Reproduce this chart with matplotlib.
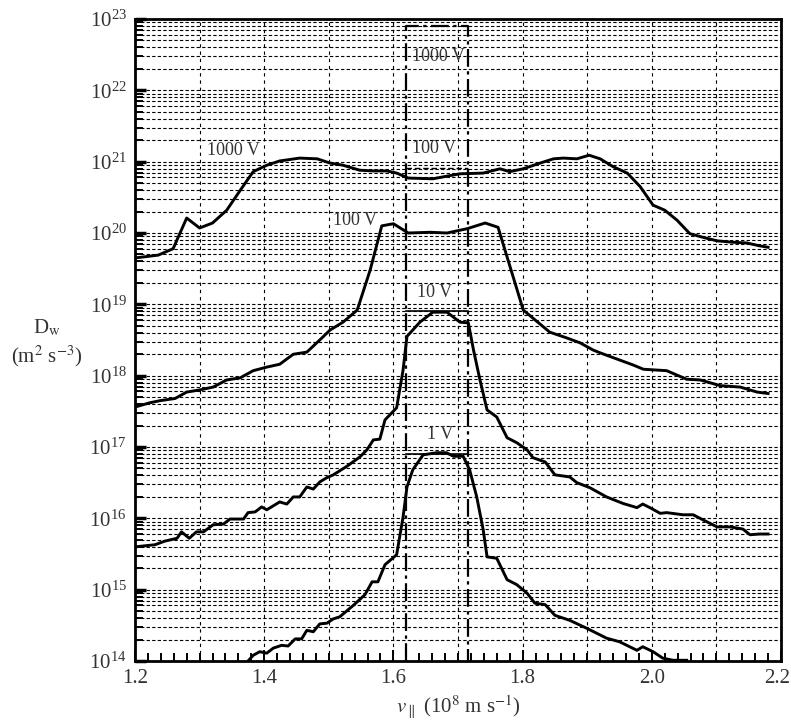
import numpy as np
import matplotlib
matplotlib.use("Agg")
import matplotlib.pyplot as plt
import matplotlib.transforms as mtrans
from matplotlib.ticker import MultipleLocator, LogLocator, NullFormatter

plt.rcParams['font.family'] = ['Liberation Serif', 'DejaVu Serif']
plt.rcParams['mathtext.fontset'] = 'stix'

# curves: x in 1e8 m/s, y as log10(D_w)
x_1000 = [1.20, 1.236, 1.259, 1.28, 1.30, 1.32, 1.342, 1.363, 1.383, 1.404, 1.424, 1.455,
          1.482, 1.502, 1.522, 1.548, 1.569, 1.59, 1.605, 1.623, 1.661, 1.703, 1.739, 1.765,
          1.78, 1.801, 1.827, 1.848, 1.863, 1.884, 1.903, 1.92, 1.94, 1.962, 1.982, 2.002,
          2.02, 2.039, 2.059, 2.079, 2.101, 2.126, 2.147, 2.167, 2.18]
log_1000 = [19.65, 19.69, 19.78, 20.21, 20.07, 20.14, 20.32, 20.60, 20.86, 20.95, 21.01, 21.05,
            21.04, 20.98, 20.95, 20.88, 20.87, 20.87, 20.84, 20.77, 20.76, 20.83, 20.84, 20.90,
            20.86, 20.90, 20.98, 21.04, 21.05, 21.04, 21.09, 21.04, 20.93, 20.84, 20.65, 20.39,
            20.32, 20.18, 19.99, 19.94, 19.89, 19.87, 19.86, 19.82, 19.80]

x_100 = [1.20, 1.223, 1.239, 1.262, 1.28, 1.30, 1.321, 1.342, 1.363, 1.383, 1.404, 1.424,
         1.445, 1.466, 1.486, 1.502, 1.522, 1.544, 1.564, 1.582, 1.60, 1.623, 1.657, 1.683,
         1.714, 1.742, 1.762, 1.801, 1.842, 1.868, 1.889, 1.909, 1.920, 1.971, 1.987, 2.023,
         2.054, 2.075, 2.106, 2.137, 2.163, 2.18]
log_100 = [17.56, 17.62, 17.65, 17.68, 17.77, 17.80, 17.84, 17.94, 17.97, 18.07, 18.12, 18.16,
           18.30, 18.33, 18.50, 18.64, 18.75, 18.92, 19.48, 20.10, 20.13, 20.00, 20.01, 20.00,
           20.06, 20.14, 20.08, 18.92, 18.61, 18.53, 18.46, 18.36, 18.32, 18.15, 18.09, 18.07,
           17.95, 17.94, 17.86, 17.84, 17.77, 17.75]

x_10 = [1.20, 1.231, 1.246, 1.265, 1.272, 1.284, 1.295, 1.306, 1.321, 1.337, 1.347, 1.368,
        1.375, 1.386, 1.396, 1.404, 1.424, 1.435, 1.445, 1.455, 1.466, 1.476, 1.486, 1.497,
        1.507, 1.528, 1.548, 1.559, 1.569, 1.579, 1.587, 1.605, 1.615, 1.621, 1.641, 1.661,
        1.683, 1.703, 1.716, 1.724, 1.734, 1.745, 1.760, 1.776, 1.791, 1.807, 1.816, 1.835,
        1.850, 1.873, 1.884, 1.904, 1.930, 1.955, 1.977, 1.986, 1.997, 2.013, 2.023, 2.048,
        2.064, 2.079, 2.101, 2.121, 2.141, 2.152, 2.167, 2.18]
log_10 = [15.60, 15.63, 15.68, 15.72, 15.81, 15.72, 15.81, 15.81, 15.91, 15.92, 15.99, 15.99,
          16.08, 16.09, 16.16, 16.12, 16.23, 16.20, 16.30, 16.30, 16.44, 16.41, 16.51, 16.57,
          16.61, 16.73, 16.86, 16.96, 17.10, 17.11, 17.38, 17.55, 18.08, 18.55, 18.75, 18.89,
          18.89, 18.75, 18.74, 18.36, 17.94, 17.52, 17.42, 17.13, 17.06, 16.96, 16.85, 16.79,
          16.61, 16.58, 16.50, 16.43, 16.30, 16.21, 16.15, 16.20, 16.15, 16.07, 16.08, 16.05,
          16.05, 15.98, 15.88, 15.88, 15.85, 15.77, 15.78, 15.78]

x_1 = [1.375, 1.383, 1.393, 1.404, 1.414, 1.427, 1.437, 1.448, 1.458, 1.466, 1.476, 1.486,
       1.497, 1.507, 1.517, 1.538, 1.556, 1.567, 1.576, 1.587, 1.605, 1.615, 1.621, 1.630,
       1.646, 1.667, 1.682, 1.693, 1.708, 1.718, 1.729, 1.739, 1.745, 1.760, 1.776, 1.791,
       1.807, 1.819, 1.835, 1.850, 1.873, 1.899, 1.930, 1.950, 1.977, 1.986, 2.002, 2.017,
       2.033, 2.054]
log_1 = [14.00, 14.08, 14.13, 14.11, 14.18, 14.22, 14.21, 14.31, 14.31, 14.43, 14.41, 14.52,
         14.53, 14.59, 14.62, 14.78, 14.93, 15.11, 15.11, 15.35, 15.49, 16.02, 16.44, 16.68,
         16.89, 16.92, 16.92, 16.87, 16.87, 16.68, 16.30, 15.84, 15.46, 15.44, 15.14, 15.07,
         14.95, 14.81, 14.79, 14.64, 14.57, 14.46, 14.32, 14.27, 14.15, 14.20, 14.13, 14.04,
         14.01, 14.01]

# window box and plateau marks
box_left, box_right, box_top = 1.62, 1.715, 22.9
plateau_100, plateau_10, plateau_1 = 20.91, 18.91, 16.90

fig = plt.figure(figsize=(7.91, 7.21), dpi=100)
ax = fig.add_axes([135 / 791, 1 - 661 / 721, 646 / 791, 642 / 721])
ax.set_yscale('log')
ax.set_xlim(1.2, 2.2)
ax.set_ylim(1e14, 1e23)

# grid
ax.xaxis.set_major_locator(MultipleLocator(0.2))
ax.xaxis.set_minor_locator(MultipleLocator(0.02))
for gx in np.arange(1.3, 2.15, 0.1):
    ax.axvline(gx, color='black', lw=0.8, ls=(0, (3, 3.5)), zorder=1)
ax.yaxis.set_major_locator(LogLocator(base=10, numticks=20))
ax.yaxis.set_minor_locator(LogLocator(base=10, subs=np.arange(2, 10), numticks=200))
ax.yaxis.set_minor_formatter(NullFormatter())
ax.grid(True, which='both', axis='y', color='black', lw=0.8, ls=(0, (3, 2)), zorder=1)

for xs, ls in [(x_1000, log_1000), (x_100, log_100), (x_10, log_10), (x_1, log_1)]:
    ax.plot(xs, 10 ** np.array(ls), color='black', lw=2.1, zorder=3, clip_on=True)

# dash-dot window
ax.plot([box_left, box_left, box_right, box_right],
        [1e14, 10 ** box_top, 10 ** box_top, 1e14],
        color='black', lw=1.6, ls=(0, (8, 2, 1.5, 2)), zorder=4)
ax.plot([box_left, box_right], [10 ** plateau_100] * 2, color='black', lw=1.0, ls=(0, (4, 2)), zorder=4)
ax.plot([box_left, box_right], [10 ** plateau_10] * 2, color='black', lw=1.2, zorder=4)
ax.plot([box_left, box_right], [10 ** plateau_1] * 2, color='black', lw=1.2, zorder=4)

lab_kw = dict(ha='center', va='center', fontsize=13, color='#333333', zorder=5)
ax.text(1.352, 10 ** 21.16, '1000 V', **lab_kw)
ax.text(1.541, 10 ** 20.18, '100 V', **lab_kw)
ax.text(1.669, 10 ** 22.47, '1000 V', **lab_kw)
ax.text(1.663, 10 ** 21.19, '100 V', **lab_kw)
ax.text(1.664, 10 ** 19.17, '10 V', **lab_kw)
ax.text(1.672, 10 ** 17.17, '1 V', **lab_kw)

ax.tick_params(axis='both', which='both', direction='in', labelsize=15, width=1.4,
               labelcolor='#333333')
ax.tick_params(axis='both', which='major', length=8, pad=6)
ax.tick_params(axis='both', which='minor', length=6)
ax.tick_params(axis='y', which='major', width=2.5)
ax.set_xticks([1.2, 1.4, 1.6, 1.8, 2.0, 2.2])
ax.set_xticklabels(['1.2', '1.4', '1.6', '1.8', '2.0', '2.2'])
# nudge the last label so it stays inside the figure
last = ax.get_xticklabels()[-1]
last.set_transform(last.get_transform() + mtrans.ScaledTranslation(-4 / 100, 0, fig.dpi_scale_trans))
for s in ax.spines.values():
    s.set_linewidth(2.0)

fig.text(458 / 791, 1 - 707 / 721, r'$v_\parallel$ (10$^8$ m s$^{-1}$)',
         ha='center', va='center', fontsize=15, color='#333333')
fig.text(47 / 791, 1 - 328 / 721, r'D$_\mathrm{w}$', ha='center', va='center', fontsize=15, color='#333333')
fig.text(47 / 791, 1 - 356 / 721, r'(m$^2$ s$^{-3}$)', ha='center', va='center', fontsize=15, color='#333333')

fig.savefig('out.png', dpi=100)
